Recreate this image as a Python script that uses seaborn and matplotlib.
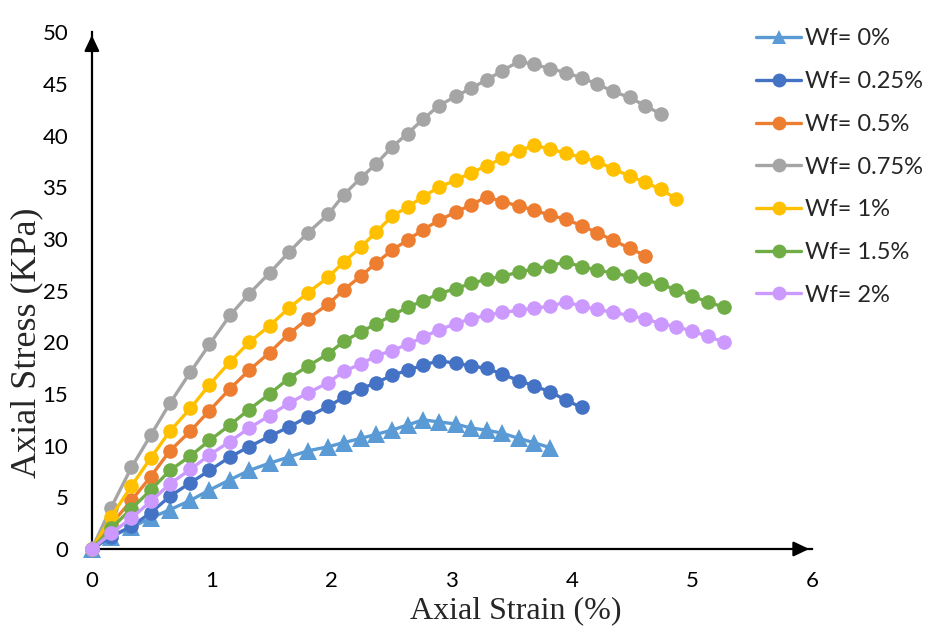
import numpy as np
import pandas as pd
import seaborn as sns
import matplotlib.pyplot as plt

# strain steps (%)
strain = [0, 0.16, 0.33, 0.49, 0.65, 0.82, 0.98, 1.15, 1.31, 1.48, 1.64, 1.80, 1.97,
          2.10, 2.24, 2.37, 2.50, 2.63, 2.76, 2.89, 3.03, 3.16, 3.29, 3.42, 3.56, 3.68,
          3.82, 3.95, 4.08, 4.21, 4.34, 4.48, 4.61, 4.74, 4.87, 5.00, 5.13, 5.27]

wf_0 = [0, 1.2, 2.1, 3.0, 3.8, 4.7, 5.7, 6.7, 7.6, 8.3, 8.9, 9.5, 9.9, 10.3, 10.7, 11.1,
        11.5, 12.0, 12.5, 12.3, 12.1, 11.7, 11.5, 11.2, 10.7, 10.3, 9.8]
wf_025 = [0, 1.2, 2.2, 3.5, 5.1, 6.4, 7.6, 8.9, 9.9, 10.9, 11.8, 12.8, 13.8, 14.7, 15.5,
          16.1, 16.8, 17.3, 17.8, 18.2, 18.0, 17.7, 17.5, 16.9, 16.3, 15.8, 15.2, 14.4, 13.7]
wf_05 = [0, 2.4, 4.7, 7.0, 9.5, 11.4, 13.4, 15.5, 17.3, 19.0, 20.8, 22.3, 23.7, 25.1, 26.4,
         27.7, 28.9, 29.9, 30.9, 31.8, 32.6, 33.3, 34.1, 33.6, 33.2, 32.8, 32.3, 31.9, 31.3,
         30.6, 29.9, 29.1, 28.4]
wf_075 = [0, 4.0, 7.9, 11.0, 14.1, 17.1, 19.8, 22.6, 24.7, 26.7, 28.7, 30.6, 32.4, 34.3,
          35.9, 37.3, 38.9, 40.2, 41.6, 42.9, 43.8, 44.6, 45.4, 46.3, 47.2, 46.9, 46.5,
          46.1, 45.6, 45.0, 44.3, 43.7, 42.9, 42.1]
wf_1 = [0, 3.1, 6.1, 8.8, 11.4, 13.6, 15.9, 18.1, 20.0, 21.6, 23.3, 24.8, 26.3, 27.8, 29.2,
        30.7, 32.2, 33.1, 34.1, 35.0, 35.7, 36.4, 37.1, 37.8, 38.5, 39.1, 38.7, 38.3, 37.9,
        37.5, 36.8, 36.1, 35.5, 34.8, 33.9]
wf_15 = [0, 2.0, 3.9, 5.7, 7.6, 9.0, 10.5, 12.0, 13.5, 15.0, 16.5, 17.7, 18.9, 20.1, 21.0,
         21.8, 22.6, 23.4, 24.0, 24.7, 25.2, 25.7, 26.1, 26.4, 26.8, 27.1, 27.4, 27.8, 27.3,
         27.0, 26.7, 26.4, 26.1, 25.6, 25.1, 24.5, 23.9, 23.4]
wf_2 = [0, 1.5, 3.0, 4.6, 6.3, 7.7, 9.1, 10.4, 11.7, 12.9, 14.1, 15.1, 16.1, 17.2, 17.9,
        18.7, 19.2, 19.8, 20.5, 21.2, 21.8, 22.3, 22.6, 22.9, 23.1, 23.3, 23.5, 23.9, 23.5,
        23.2, 22.9, 22.6, 22.3, 21.8, 21.5, 21.1, 20.6, 20.0]

labels = ["Wf= 0%", "Wf= 0.25%", "Wf= 0.5%", "Wf= 0.75%", "Wf= 1%", "Wf= 1.5%", "Wf= 2%"]
series = [wf_0, wf_025, wf_05, wf_075, wf_1, wf_15, wf_2]
colors = ["#5B9BD5", "#4472C4", "#ED7D31", "#A5A5A5", "#FFC000", "#70AD47", "#CC99FF"]

rows = []
for lab, vals in zip(labels, series):
    for x, y in zip(strain, vals):
        rows.append((lab, x, y))
df = pd.DataFrame(rows, columns=["series", "strain", "stress"])

sns.set_style("white")
plt.rcParams["font.family"] = ["Lato", "DejaVu Sans"]

fig = plt.figure(figsize=(9.28, 6.3), dpi=100)
ax = fig.add_axes([0.099, 0.1286, 0.776, 0.82])

markers = {lab: ("^" if i == 0 else "o") for i, lab in enumerate(labels)}
sns.lineplot(data=df, x="strain", y="stress", hue="series", style="series",
             hue_order=labels, style_order=labels, palette=colors, markers=markers,
             dashes=False, sort=False, linewidth=2.4, markersize=10.5,
             markeredgewidth=0, ax=ax, legend=True)
# bigger triangles, and let the origin points spill over the axes
ax.lines[0].set_markersize(12.5)
for ln in ax.lines:
    ln.set_clip_on(False)

ax.set_xlim(0, 6)
ax.set_ylim(0, 50)
ax.set_xticks(range(0, 7))
ax.set_yticks(range(0, 51, 5))
ax.tick_params(axis="y", labelsize=16, length=8, width=1.6, direction="out",
               colors="black", pad=9)
ax.tick_params(axis="x", labelsize=16, length=7, width=1.6, direction="out",
               colors="black", pad=9)
for s in ["top", "right"]:
    ax.spines[s].set_visible(False)
for s in ["left", "bottom"]:
    ax.spines[s].set_linewidth(1.6)
    ax.spines[s].set_color("black")
    ax.spines[s].set_zorder(0.5)

# arrow heads on axes
ax.annotate("", xy=(0, 1), xytext=(0, 0.96), xycoords="axes fraction",
            arrowprops=dict(arrowstyle="-|>,head_length=0.95,head_width=0.45", color="black", lw=1.6),
            annotation_clip=False)
ax.annotate("", xy=(1, 0), xytext=(0.97, 0), xycoords="axes fraction",
            arrowprops=dict(arrowstyle="-|>,head_length=0.95,head_width=0.45", color="black", lw=1.6),
            annotation_clip=False)

ax.set_xlabel("Axial Strain (%)", family="Liberation Serif", fontsize=23)
ax.set_ylabel("Axial Stress (KPa)", family="Liberation Serif", fontsize=26)
ax.xaxis.set_label_coords(0.589, -0.092)
ax.yaxis.set_label_coords(-0.068, 0.40)

handles, labs = ax.get_legend_handles_labels()
ax.legend(handles, labs, loc="upper left", bbox_to_anchor=(0.815, 0.955),
          bbox_transform=fig.transFigure, frameon=False, fontsize=17,
          labelspacing=0.92, handlelength=1.9, handletextpad=0.15, markerscale=0.95,
          borderaxespad=0, borderpad=0)

fig.savefig("out.png", dpi=100)
